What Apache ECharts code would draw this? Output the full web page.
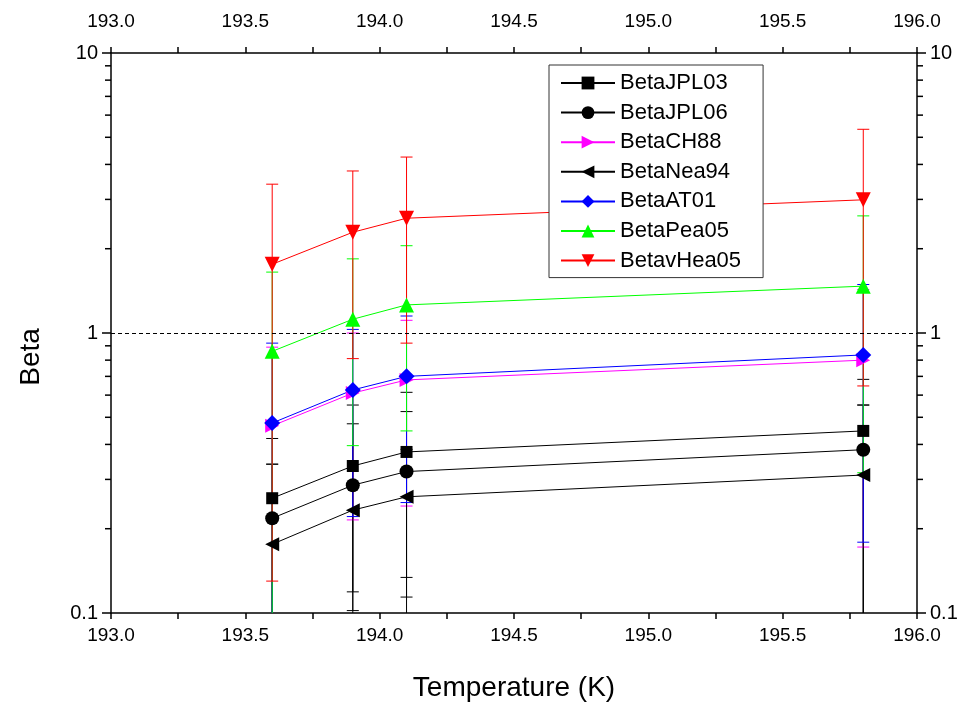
<!DOCTYPE html>
<html>
<head>
<meta charset="utf-8">
<script src="https://cdn.jsdelivr.net/npm/echarts@6/dist/echarts.min.js"></script>
<style>
html,body{margin:0;padding:0;background:#fff;}
#chart{width:968px;height:704px;}
</style>
</head>
<body>
<div id="chart"></div>
<script>
// ---- data ----
const temps = [193.6, 193.9, 194.1, 195.8];
const seriesNames = ['BetaJPL03', 'BetaJPL06', 'BetaCH88', 'BetaNea94', 'BetaAT01', 'BetaPea05', 'BetavHea05'];

const betaJPL03 = [0.257, 0.335, 0.376, 0.447];
const lowJPL03  = [0.094, 0.119, 0.134, 0.08];
const highJPL03 = [0.42, 0.616, 0.614, 0.683];

const betaJPL06 = [0.218, 0.286, 0.32, 0.383];
const lowJPL06  = [0.096, 0.102, 0.114, 0.07];
const highJPL06 = [0.34, 0.553, 0.524, 0.553];

const betaCH88 = [0.466, 0.61, 0.68, 0.80];
const lowCH88  = [0.05, 0.215, 0.241, 0.172];
const highCH88 = [0.89, 1.0, 1.11, 1.43];

const betaNea94 = [0.176, 0.233, 0.26, 0.311];
const lowNea94  = [0.03, 0.086, 0.05, 0.06];
const highNea94 = [0.34, 0.474, 0.384, 0.553];

const betaAT01 = [0.477, 0.626, 0.70, 0.835];
const lowAT01  = [0.04, 0.221, 0.248, 0.179];
const highAT01 = [0.92, 1.03, 1.15, 1.49];

const betaPea05 = [0.86, 1.12, 1.26, 1.47];
const lowPea05  = [0.07, 0.396, 0.447, 0.317];
const highPea05 = [1.65, 1.84, 2.05, 2.62];

const betavHea05 = [1.76, 2.29, 2.57, 2.99];
const lowvHea05  = [0.13, 0.81, 0.92, 0.647];
const highvHea05 = [3.4, 3.79, 4.25, 5.34];

const yMinorTicks = [0.2, 0.3, 0.4, 0.5, 0.6, 0.7, 0.8, 0.9, 2, 3, 4, 5, 6, 7, 8, 9];
const refLineValue = 1;

// ---- styling ----
const FONT = "'Liberation Sans', Arial, sans-serif";
const styles = [
  {color: '#000000', symbol: 'rect', rotate: 0, size: 12},
  {color: '#000000', symbol: 'circle', rotate: 0, size: 14},
  {color: '#FF00FF', symbol: 'triangle', rotate: -90, size: 14},
  {color: '#000000', symbol: 'triangle', rotate: 90, size: 14},
  {color: '#0000FF', symbol: 'diamond', rotate: 0, size: 16},
  {color: '#00FF00', symbol: 'triangle', rotate: 0, size: 15},
  {color: '#FF0000', symbol: 'triangle', rotate: 180, size: 15}
];
const values = [betaJPL03, betaJPL06, betaCH88, betaNea94, betaAT01, betaPea05, betavHea05];
const lows = [lowJPL03, lowJPL06, lowCH88, lowNea94, lowAT01, lowPea05, lowvHea05];
const highs = [highJPL03, highJPL06, highCH88, highNea94, highAT01, highPea05, highvHea05];

const Y_MIN = 0.1, Y_MAX = 10, X_MIN = 193, X_MAX = 196;

const chart = echarts.init(document.getElementById('chart'), null, {renderer: 'canvas'});

const series = [];
// main line series
seriesNames.forEach((name, i) => {
  const s = {
    name: name,
    type: 'line',
    xAxisIndex: 0, yAxisIndex: 0,
    data: temps.map((t, j) => [t, values[i][j]]),
    symbol: styles[i].symbol,
    symbolSize: styles[i].size,
    symbolRotate: styles[i].rotate,
    showAllSymbol: true,
    lineStyle: {color: styles[i].color, width: 1},
    itemStyle: {color: styles[i].color, borderWidth: 0},
    emphasis: {disabled: true},
    animation: false,
    z: 3
  };
  if (i === 0) {
    s.markLine = {
      silent: true,
      symbol: 'none',
      label: {show: false},
      lineStyle: {color: '#000', type: [4, 3], width: 1},
      data: [{yAxis: refLineValue}],
      animation: false
    };
  }
  series.push(s);
});
// error bars
seriesNames.forEach((name, i) => {
  const color = styles[i].color;
  series.push({
    name: 'err_' + name,
    type: 'custom',
    xAxisIndex: 0, yAxisIndex: 0,
    data: temps.map((t, j) => [t, lows[i][j], highs[i][j]]),
    encode: {x: 0, y: [1, 2]},
    silent: true,
    animation: false,
    z: 2,
    renderItem: function (params, api) {
      const x = api.value(0), lo = api.value(1), hi = api.value(2);
      const loC = Math.max(lo, Y_MIN), hiC = Math.min(hi, Y_MAX);
      const pLo = api.coord([x, loC]);
      const pHi = api.coord([x, hiC]);
      const hw = 6;
      const st = {stroke: color, lineWidth: 1};
      const children = [{
        type: 'line', shape: {x1: pLo[0], y1: pLo[1], x2: pHi[0], y2: pHi[1]}, style: st
      }];
      if (lo >= Y_MIN) children.push({type: 'line', shape: {x1: pLo[0] - hw, y1: pLo[1], x2: pLo[0] + hw, y2: pLo[1]}, style: st});
      if (hi <= Y_MAX) children.push({type: 'line', shape: {x1: pHi[0] - hw, y1: pHi[1], x2: pHi[0] + hw, y2: pHi[1]}, style: st});
      return {type: 'group', children: children};
    }
  });
});
// minor ticks of the log axes (left and right), placed through the axis scale
series.push({
  name: 'yMinorTicks',
  type: 'custom',
  xAxisIndex: 0, yAxisIndex: 0,
  data: yMinorTicks.map(v => [X_MIN, v]),
  silent: true,
  animation: false,
  clip: false,
  z: 5,
  renderItem: function (params, api) {
    const v = api.value(1);
    const pl = api.coord([X_MIN, v]);
    const pr = api.coord([X_MAX, v]);
    const st = {stroke: '#000', lineWidth: 1.5};
    return {type: 'group', children: [
      {type: 'line', shape: {x1: pl[0] - 6, y1: pl[1], x2: pl[0], y2: pl[1]}, style: st},
      {type: 'line', shape: {x1: pr[0], y1: pr[1], x2: pr[0] + 6, y2: pr[1]}, style: st}
    ]};
  }
});

const axisLineStyle = {show: true, lineStyle: {color: '#000', width: 1.5}};
const xAxisCommon = {
  type: 'value', min: X_MIN, max: X_MAX, interval: 0.5,
  axisLine: Object.assign({onZero: false}, axisLineStyle),
  axisTick: {show: true, inside: false, length: 6, lineStyle: {color: '#000', width: 1.5}},
  minorTick: {show: true, splitNumber: 2, length: 6, lineStyle: {color: '#000', width: 1.5}},
  splitLine: {show: false},
  axisLabel: {color: '#000', fontSize: 19, fontFamily: FONT, formatter: v => v.toFixed(1)}
};
const yLabelFmt = v => (Math.abs(v - 0.1) < 1e-9 ? '0.1' : String(Math.round(v)));
const yAxisCommon = {
  type: 'log', logBase: 10, min: Y_MIN, max: Y_MAX,
  axisLine: Object.assign({onZero: false}, axisLineStyle),
  axisTick: {show: true, inside: false, length: 9, lineStyle: {color: '#000', width: 1.5}},
  minorTick: {show: false},
  splitLine: {show: false},
  axisLabel: {color: '#000', fontSize: 20, fontFamily: FONT, formatter: yLabelFmt, margin: 13}
};

const option = {
  backgroundColor: '#ffffff',
  animation: false,
  grid: {left: 111, right: 51, top: 53, bottom: 91, containLabel: false, outerBoundsMode: 'none'},
  legend: {
    data: seriesNames,
    orient: 'vertical',
    left: 549, top: 65,
    padding: [7, 22, 6, 11],
    itemWidth: 54, itemHeight: 16, itemGap: 7.6,
    borderColor: '#333', borderWidth: 1,
    backgroundColor: '#fff',
    textStyle: {color: '#000', fontSize: 22, fontFamily: FONT, lineHeight: 22},
    selectedMode: false
  },
  xAxis: [
    Object.assign({}, xAxisCommon, {
      position: 'bottom',
      axisLabel: Object.assign({}, xAxisCommon.axisLabel, {margin: 13}),
      name: 'Temperature (K)', nameLocation: 'middle', nameGap: 61,
      nameTextStyle: {color: '#000', fontSize: 28, fontFamily: FONT}
    }),
    Object.assign({}, xAxisCommon, {
      position: 'top',
      axisLabel: Object.assign({}, xAxisCommon.axisLabel, {margin: 22})
    })
  ],
  yAxis: [
    Object.assign({}, yAxisCommon, {
      position: 'left',
      name: 'Beta', nameLocation: 'middle', nameGap: 66,
      nameTextStyle: {color: '#000', fontSize: 28, fontFamily: FONT, padding: [0, 48, 0, 0]}
    }),
    Object.assign({}, yAxisCommon, {position: 'right'})
  ],
  series: series
};
chart.setOption(option);
</script>
</body>
</html>
